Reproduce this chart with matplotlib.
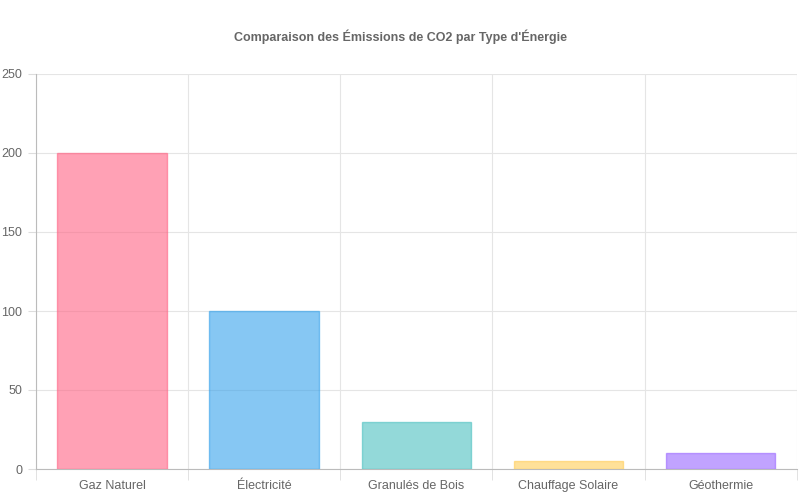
import matplotlib
matplotlib.use("Agg")
import matplotlib.pyplot as plt
import numpy as np

categories = ["Gaz Naturel", "Électricité", "Granulés de Bois", "Chauffage Solaire", "Géothermie"]
values = [200, 100, 30, 5, 10]
colors = ["#ff6384", "#36a2eb", "#4bc0c0", "#ffcd56", "#9966ff"]

plt.rcParams['font.family'] = ['Liberation Sans', 'DejaVu Sans']
fig = plt.figure(figsize=(8, 5), dpi=100)
ax = fig.add_axes([0.045, 0.062, 0.951, 0.79])
x = np.arange(len(categories))
ax.bar(x, values, width=0.72, color=colors, alpha=0.6, edgecolor=colors, linewidth=1, zorder=3)
ax.set_xlim(-0.5, len(categories) - 0.5)
ax.set_ylim(0, 250)
ax.set_yticks(range(0, 251, 50))
ax.set_xticks(x)
ax.set_xticklabels(categories)
ax.set_xticks(np.arange(-0.5, len(categories), 1), minor=True)
ax.tick_params(axis='x', which='major', length=0, pad=8, labelsize=9, labelcolor='#666666')
ax.tick_params(axis='x', which='minor', length=8, color='#dddddd')
ax.tick_params(axis='y', length=6, color='#dddddd', labelsize=9, labelcolor='#666666', pad=4)
ax.grid(True, which='minor', axis='x', color='#e5e5e5', linewidth=0.8, zorder=0)
ax.grid(True, which='major', axis='y', color='#e5e5e5', linewidth=0.8, zorder=0)
for s in ['top', 'right']:
    ax.spines[s].set_visible(False)
ax.spines['left'].set_color('#bbbbbb')
ax.spines['bottom'].set_color('#bbbbbb')
fig.text(0.5, 0.926, "Comparaison des Émissions de CO2 par Type d'Énergie",
         ha='center', va='center', fontsize=9, fontweight='bold', color='#666666')
fig.savefig("out.png", dpi=100)
